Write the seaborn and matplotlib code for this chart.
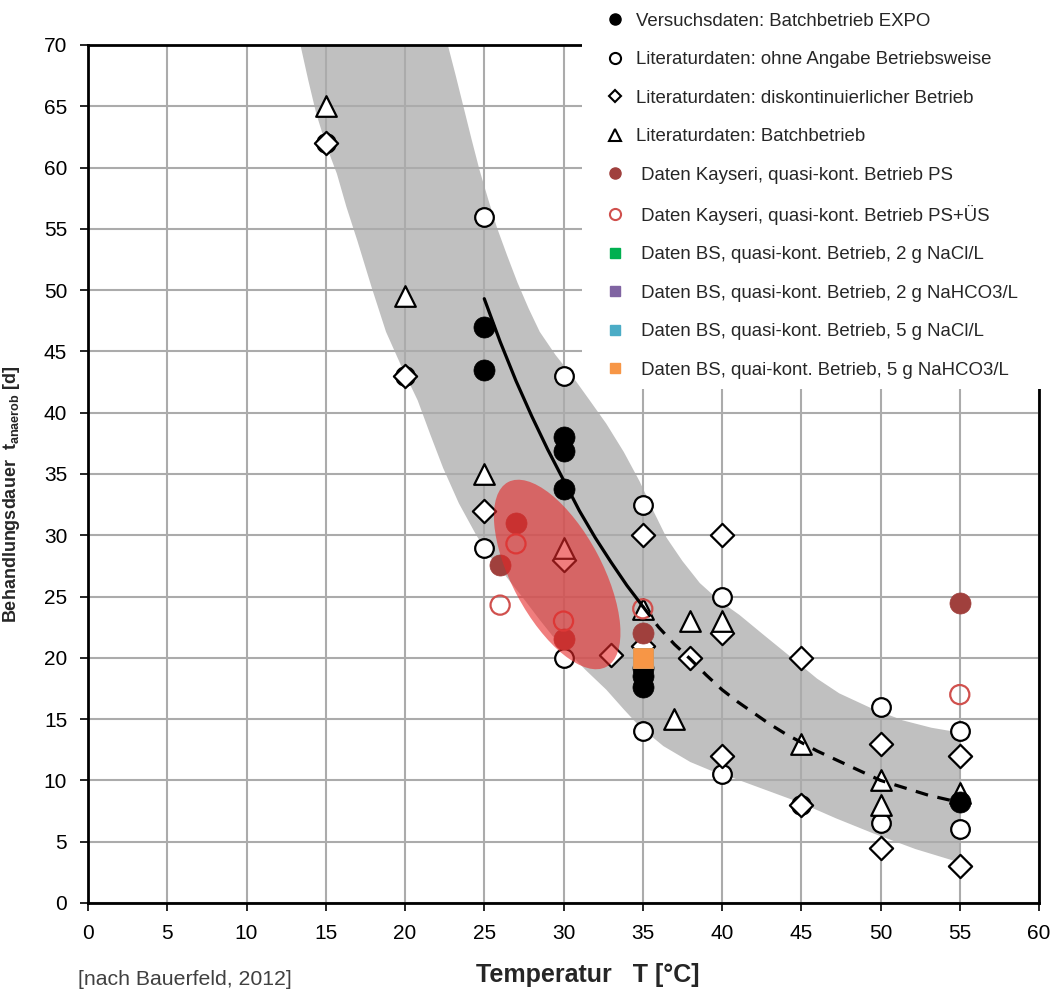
import numpy as np
import pandas as pd
import matplotlib
matplotlib.use("Agg")
import matplotlib.pyplot as plt
from matplotlib.lines import Line2D
from matplotlib.patches import Ellipse, Rectangle
from matplotlib.transforms import Affine2D
import seaborn as sns

# ---------------- data ----------------
expo_x = [25, 25, 30, 30, 30, 35, 35, 35, 55]
expo_y = [47, 43.5, 38, 36.9, 33.8, 19.2, 18.5, 17.6, 8.2]

lit_circ_x = [15, 20, 25, 25, 30, 30, 35, 35, 40, 40, 45, 50, 50, 55, 55]
lit_circ_y = [62, 43, 56, 29, 43, 20, 32.5, 14, 25, 10.5, 8, 16, 6.5, 14, 6]

lit_dia_x = [15, 20, 25, 30, 33, 35, 35, 38, 40, 40, 40, 45, 45, 50, 50, 55, 55]
lit_dia_y = [62, 43, 32, 28, 20.2, 30, 21, 20, 30, 22, 12, 20, 8, 13, 4.5, 12, 3]

lit_tri_x = [15, 20, 25, 30, 35, 37, 38, 40, 45, 50, 50, 55]
lit_tri_y = [65, 49.5, 35, 29, 24, 15, 23, 23, 13, 10, 8, 9]

kay_ps_x = [26, 27, 30, 35, 55]
kay_ps_y = [27.6, 31, 21.5, 22, 24.5]

kay_psus_x = [26, 27, 30, 35, 55]
kay_psus_y = [24.3, 29.3, 23, 24, 17]

bs_x = [35, 35, 35, 35]
bs_y = [20, 20, 20, 20]

curve_solid_x = [25, 26, 27, 28, 29, 30, 31, 32, 33, 34, 35]
curve_solid_y = [49.3, 45.8, 42.6, 39.7, 37.0, 34.5, 32.0, 29.8, 27.8, 25.9, 24.2]
curve_dash_x = [35, 36, 37, 38, 39, 40, 41, 42, 43, 44, 45, 46, 47, 48, 49, 50, 51, 52, 53, 54, 55]
curve_dash_y = [24.2, 22.5, 21.1, 19.9, 18.6, 17.4, 16.4, 15.5, 14.6, 13.8, 13.1, 12.4, 11.8,
                11.2, 10.6, 10.0, 9.6, 9.2, 8.8, 8.5, 8.2]

band_upper_x = [22.7, 23.2, 23.7, 24.2, 24.7, 25.25, 25.8, 26.45, 27.1, 27.8, 28.5, 29.5, 30.6,
                31.6, 32.7, 33.8, 34.8, 35.7, 36.5, 37.5, 38.6, 39.8, 41.1, 42.6, 44.5, 46.0,
                47.4, 49.4, 51.4, 53.2, 55.0]
band_upper_y = [70.0, 67.5, 64.9, 62.3, 59.8, 57.4, 55.1, 52.8, 50.6, 48.5, 46.6, 44.7, 42.9,
                41.1, 39.1, 36.8, 34.4, 31.9, 29.8, 27.9, 26.1, 24.7, 23.5, 21.9, 19.9, 18.3,
                17.1, 15.9, 14.9, 14.3, 13.9]
band_lower_x = [13.4, 13.9, 14.4, 15.0, 15.7, 16.3, 17.0, 17.9, 18.8, 19.8, 20.8, 21.6, 22.4,
                23.4, 24.5, 25.4, 26.4, 27.5, 28.5, 29.3, 30.2, 31.4, 32.7, 33.8, 34.8, 36.3,
                38.0, 39.3, 40.7, 42.8, 44.9, 47.2, 49.5, 52.2, 55.0]
band_lower_y = [70.0, 67.1, 64.4, 61.9, 59.5, 56.8, 54.0, 50.2, 46.6, 43.7, 41.0, 38.2, 35.5,
                32.6, 30.0, 28.2, 26.6, 24.8, 23.1, 21.8, 20.6, 19.0, 17.4, 15.8, 14.4, 12.8,
                11.5, 10.8, 10.2, 9.2, 8.2, 6.9, 5.7, 4.4, 3.3]

ellipse_center = (29.6, 26.8)
ellipse_len = 13.2      # major axis (x-units, equal-aspect space)
ellipse_wid = 5.7       # minor axis
ellipse_angle = -62

x_ticks = list(range(0, 61, 5))
y_ticks = list(range(0, 71, 5))

legend_labels = [
    "Versuchsdaten: Batchbetrieb EXPO",
    "Literaturdaten: ohne Angabe Betriebsweise",
    "Literaturdaten: diskontinuierlicher Betrieb",
    "Literaturdaten: Batchbetrieb",
    " Daten Kayseri, quasi-kont. Betrieb PS",
    " Daten Kayseri, quasi-kont. Betrieb PS+ÜS",
    " Daten BS, quasi-kont. Betrieb, 2 g NaCl/L",
    " Daten BS, quasi-kont. Betrieb, 2 g NaHCO3/L",
    " Daten BS, quasi-kont. Betrieb, 5 g NaCl/L",
    " Daten BS, quai-kont. Betrieb, 5 g NaHCO3/L",
]
bs_colors = ["#00B050", "#8064A2", "#4BACC6", "#F79646"]

# ---------------- style ----------------
sns.set_theme(style="white")
plt.rcParams["font.family"] = ["Liberation Sans", "DejaVu Sans"]
plt.rcParams["mathtext.fontset"] = "custom"
plt.rcParams["mathtext.rm"] = "Liberation Sans"
plt.rcParams["mathtext.bf"] = "Liberation Sans:bold"

fig = plt.figure(figsize=(10.54, 9.97), dpi=100)
ax = fig.add_axes([0.0835, 0.0943, 0.9023, 0.8606])

# grey band
poly_x = band_upper_x + band_lower_x[::-1]
poly_y = band_upper_y + band_lower_y[::-1]
ax.fill(poly_x, poly_y, color="#C0C0C0", lw=0, zorder=0.8)

# markers
ew = 1.6
sns.scatterplot(x=lit_circ_x, y=lit_circ_y, marker="o", s=180, color="white",
                edgecolor="black", linewidth=ew, zorder=3, ax=ax, legend=False)
sns.scatterplot(x=lit_dia_x, y=lit_dia_y, marker="D", s=140, color="white",
                edgecolor="black", linewidth=ew, zorder=3.1, ax=ax, legend=False)
sns.scatterplot(x=lit_tri_x, y=lit_tri_y, marker="^", s=220, color="white",
                edgecolor="black", linewidth=ew, zorder=3.2, ax=ax, legend=False)
sns.scatterplot(x=expo_x, y=expo_y, marker="o", s=230, color="black",
                edgecolor="black", linewidth=0.5, zorder=3.3, ax=ax, legend=False)
sns.scatterplot(x=kay_ps_x, y=kay_ps_y, marker="o", s=230, color="#A0403D",
                edgecolor="#A0403D", linewidth=0.5, zorder=3.4, ax=ax, legend=False)
sns.scatterplot(x=kay_psus_x, y=kay_psus_y, marker="o", s=190, color="none",
                edgecolor="#D0504D", linewidth=ew, zorder=3.5, ax=ax, legend=False)
for bx, by, bc in zip(bs_x, bs_y, bs_colors):
    sns.scatterplot(x=[bx], y=[by], marker="s", s=220, color=bc,
                    edgecolor=bc, linewidth=0.5, zorder=3.6, ax=ax, legend=False)

# fitted curve
sns.lineplot(x=curve_solid_x, y=curve_solid_y, color="black", lw=2.3,
             zorder=3.8, ax=ax, sort=False, estimator=None)
sns.lineplot(x=curve_dash_x, y=curve_dash_y, color="black", lw=2.3,
             linestyle=(0, (4, 3)), zorder=3.8, ax=ax, sort=False, estimator=None)

# red ellipse (drawn in equal-aspect space)
k = (0.8606 * 997 / 70) / (0.9023 * 1054 / 60)
ell = Ellipse((ellipse_center[0], ellipse_center[1] * k), ellipse_len, ellipse_wid,
              angle=ellipse_angle, facecolor=(230/255, 40/255, 40/255), alpha=0.6,
              lw=0, zorder=5,
              transform=Affine2D().scale(1, 1 / k) + ax.transData)
ax.add_patch(ell)

# axes
ax.set_xlim(0, 60)
ax.set_ylim(0, 70)
ax.set_xticks(x_ticks)
ax.set_yticks(y_ticks)
ax.grid(True, color="#ABABAB", lw=1.5)
ax.set_axisbelow("line")
ax.tick_params(axis="both", which="major", direction="out", length=6, width=1.2,
               color="black", labelsize=15, pad=9, bottom=True, left=True,
               labelcolor="black")
for sp in ax.spines.values():
    sp.set_color("black")
    sp.set_linewidth(2)

ax.set_xlabel("")
fig.text(588 / 1054, 1 - 975 / 997, "Temperatur   T [°C]", fontsize=18,
         fontweight="bold", ha="center", va="center")
ax.set_ylabel(r"Behandlungsdauer  $\mathbf{t}_{\mathbf{anaerob}}$ [d]",
              fontsize=13, fontweight="bold")
ax.yaxis.set_label_coords(-0.069, 0.477)

fig.text(0.074, 0.012, "[nach Bauerfeld, 2012]", fontsize=15.3, color="#404040")

# white legend area (covers grid/spines like the original)
fig.patches.append(Rectangle((582 / 1054, 1 - 389 / 997), 1 - 582 / 1054, 389 / 997,
                             transform=fig.transFigure, facecolor="white",
                             edgecolor="none", zorder=5))

# legend
handles = [
    Line2D([], [], ls="", marker="o", ms=8, mfc="black", mec="black"),
    Line2D([], [], ls="", marker="o", ms=8, mfc="white", mec="black", mew=1.5),
    Line2D([], [], ls="", marker="D", ms=6.5, mfc="white", mec="black", mew=1.5),
    Line2D([], [], ls="", marker="^", ms=8, mfc="white", mec="black", mew=1.5),
    Line2D([], [], ls="", marker="o", ms=8, mfc="#A0403D", mec="#A0403D"),
    Line2D([], [], ls="", marker="o", ms=8, mfc="none", mec="#D0504D", mew=1.5),
] + [Line2D([], [], ls="", marker="s", ms=7, mfc=c, mec=c) for c in bs_colors]

leg = fig.legend(handles, legend_labels, loc="upper left",
                 bbox_to_anchor=(0.558, 1.003), frameon=False, fontsize=13.4,
                 labelspacing=1.15, handletextpad=0.5, handlelength=1.2,
                 borderpad=0.35)
leg.set_zorder(10)

fig.savefig("out.png", dpi=100)
